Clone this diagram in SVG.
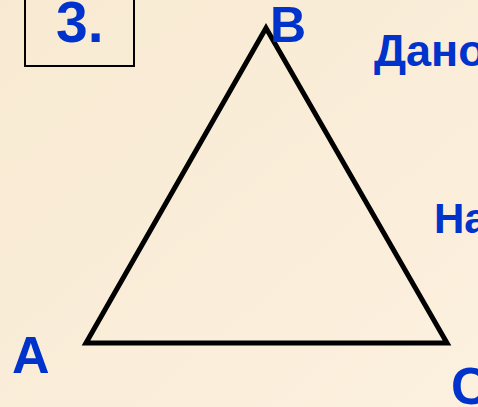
<svg xmlns="http://www.w3.org/2000/svg" width="478" height="407" viewBox="0 0 478 407">
<style>
.lbl{font-family:"Liberation Sans",Arial,sans-serif;font-weight:bold;fill:#0033CC}
</style>
<defs>
<linearGradient id="bg" x1="0" y1="0" x2="1" y2="1">
<stop offset="0" stop-color="#F8EAD2"/>
<stop offset="1" stop-color="#FCF0DF"/>
</linearGradient>
</defs>
<rect width="478" height="407" fill="url(#bg)"/>
<g id="title">
<rect x="25" y="-5" width="109" height="71" fill="none" stroke="#000" stroke-width="2"/>
<text class="lbl" x="56" y="42" font-size="57">3.</text>
</g>
<g id="connectors">
<polygon points="86,343 266,28 447,343" fill="none" stroke="#000" stroke-width="5" stroke-linejoin="miter"/>
</g>
<g id="nodeA"><text class="lbl" x="12" y="373" font-size="52">A</text></g>
<g id="nodeB"><text class="lbl" x="270" y="42" font-size="50">B</text></g>
<g id="nodeC"><text class="lbl" x="451" y="404" font-size="52">C</text></g>
<g id="dano"><text class="lbl" x="374" y="66" font-size="45">Дано</text></g>
<g id="na"><text class="lbl" x="434" y="233" font-size="42">На</text></g>
</svg>
